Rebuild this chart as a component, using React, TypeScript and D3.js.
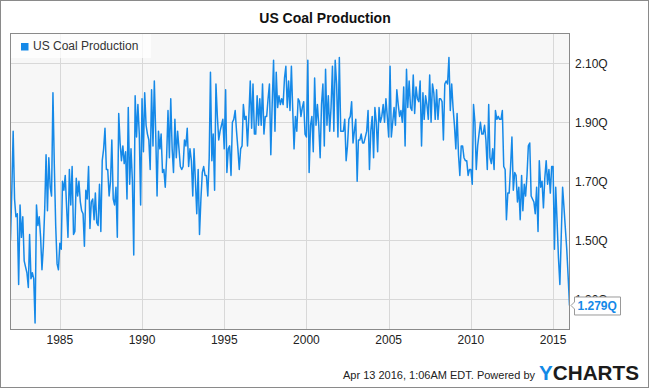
import React from "react";
import * as d3 from "d3";

// monthly values, quadrillion Btu, Jan 1982 onward
const seg1982 = [
  1.50, 1.68, 1.87, 1.64, 1.58, 1.59, 1.35, 1.62, 1.51, 1.58, 1.43,
  1.41, 1.39, 1.34, 1.52, 1.37, 1.39, 1.37, 1.22, 1.62, 1.55,
  1.58, 1.51, 1.40, 1.48, 1.61, 1.79, 1.60, 1.78, 1.68, 1.65,
  2.00, 1.75, 1.55, 1.42, 1.40, 1.49, 1.47, 1.70, 1.67, 1.72,
  1.61, 1.51, 1.74, 1.62, 1.75, 1.52, 1.53, 1.71, 1.65, 1.70,
  1.63, 1.60, 1.59, 1.48, 1.67, 1.64, 1.75, 1.54, 1.63, 1.64,
  1.57, 1.66, 1.56, 1.55, 1.69, 1.53, 1.77, 1.81,
];
const seg1987 = [
  1.88, 1.74, 1.74, 1.65, 1.70, 1.84, 1.64, 1.62, 1.68, 1.51,
  1.93, 1.83, 1.77, 1.82, 1.76, 1.80, 1.64, 1.95, 1.69, 1.81,
  1.70, 1.45, 1.99, 1.85, 1.96, 1.86, 1.62, 1.98, 1.80, 2.00,
  1.89, 1.86, 1.84, 1.74, 2.01, 1.82, 2.04, 1.86, 1.65, 1.87,
  1.81, 1.86, 1.73, 1.74, 1.68, 1.78, 1.94, 1.78, 1.98, 1.81,
  1.73, 1.91, 1.78, 1.87, 1.81, 1.75, 1.74, 1.75, 1.84, 1.82,
  1.88, 1.75, 1.81, 1.77, 1.65, 1.81, 1.70, 1.59,
];
const seg1993 = [
  1.74, 1.52, 1.64, 1.73, 1.75, 1.72, 1.72, 1.65, 1.78, 2.07,
  1.77, 1.86, 1.67, 2.03, 1.92, 1.84, 1.87, 1.89, 1.91, 1.81,
  2.01, 1.73, 1.81, 1.82, 1.72, 1.90, 1.91, 1.94, 1.87, 1.81,
  1.74, 1.81, 1.82, 1.96, 1.91, 1.92, 1.82, 1.92, 2.04, 1.88,
  2.03, 1.86, 1.86, 1.99, 1.89, 1.98, 1.89, 2.03, 1.86, 1.92,
  1.92, 1.98, 2.03, 1.79, 1.96, 2.11, 1.87, 2.07, 1.95, 1.99,
  1.96, 1.98, 1.96, 2.05, 2.09, 1.95, 2.04, 1.94,
];
const seg1999 = [
  2.09, 1.95, 1.81, 1.92, 1.87, 1.98, 1.97, 1.92, 1.95, 1.97,
  1.86, 1.85, 2.11, 1.73, 1.89, 1.92, 1.80, 2.05, 1.89, 1.96,
  1.89, 1.78, 1.96, 2.03, 1.82, 2.08, 1.89, 1.99, 1.87, 1.95,
  2.09, 1.87, 2.11, 2.03, 1.85, 2.12, 1.87, 1.87, 1.87, 1.91,
  1.77, 1.82, 1.91, 1.92, 1.97, 1.83, 1.87, 1.91, 1.70, 1.84,
  1.84, 1.86, 1.83, 1.83, 1.85, 1.87, 1.94, 1.74, 1.87, 1.92,
  1.78, 1.95, 1.90, 1.80, 1.95, 1.90, 1.92, 1.96,
];
const seg2004 = [
  1.90, 1.98, 1.92, 1.85, 2.09, 1.85, 1.90, 1.95, 1.89, 2.01,
  1.96, 1.92, 1.94, 1.90, 2.02, 1.82, 2.08, 1.95, 2.04, 1.95,
  1.94, 2.06, 1.93, 2.02, 1.98, 1.97, 2.04, 1.82, 2.00, 1.91,
  1.99, 1.96, 1.91, 2.06, 1.90, 2.03, 2.00, 1.91, 2.01, 1.91,
  1.98, 1.98, 1.97, 1.84, 2.03, 2.04, 2.03, 2.12, 1.94, 2.03,
  1.95, 1.89, 1.81, 1.93, 1.79, 1.72, 1.82, 1.82, 1.78, 1.77,
  1.77, 1.72, 1.74, 1.74, 1.69, 1.96, 1.90, 1.74,
];
const seg2010 = [
  1.82, 1.86, 1.90, 1.86, 1.86, 1.89, 1.84, 1.74, 1.96, 1.78,
  1.76, 1.81, 1.74, 1.94, 1.91, 1.92, 1.91, 1.91, 1.94, 1.75,
  1.74, 1.57, 1.66, 1.66, 1.75, 1.85, 1.67, 1.73, 1.72, 1.63,
  1.68, 1.57, 1.72, 1.60, 1.69, 1.65, 1.72, 1.82, 1.83, 1.65,
  1.64, 1.63, 1.59, 1.68, 1.53, 1.77, 1.68, 1.70, 1.61, 1.71,
  1.77, 1.69, 1.74, 1.66, 1.75, 1.75, 1.47, 1.68, 1.56, 1.44,
  1.35, 1.51, 1.68, 1.61, 1.54, 1.47, 1.38, 1.279,
];

const production = [...seg1982, ...seg1987, ...seg1993, ...seg1999, ...seg2004, ...seg2010];
const startMonth = new Date(1982, 0, 1);
const yTicks = [1.3, 1.5, 1.7, 1.9, 2.1];

const W = 650;
const H = 389;
const left = 10.5;
const right = 569.5;
const top = 33.5;
const bottom = 329.5;
const blue = "#1589e8";
const font = "'Liberation Sans', Arial, sans-serif";

export default function App() {
  const points = production.map((v, i) => ({ date: d3.timeMonth.offset(startMonth, i), value: v }));

  const x = d3.scaleTime()
    .domain([startMonth, new Date(2016, 0, 1)])
    .range([left, right]);
  const y = d3.scaleLinear().domain([1.3, 2.1]).range([299.3, 63.3]);

  const line = d3.line<{ date: Date; value: number }>()
    .x(d => x(d.date))
    .y(d => y(d.value));

  const xTicks = x.ticks(d3.timeYear.every(5)!);
  const last = points[points.length - 1];
  const ly = y(last.value);
  const lx = Math.min(x(last.date), right);

  return (
    <svg width={W} height={H} style={{ position: "absolute", left: 0, top: 0, fontFamily: font }}>
      <rect x={0.5} y={0.5} width={W - 2} height={H - 2} fill="#fff" stroke="#8a8a8a" />
      <text x={325} y={23} textAnchor="middle" fontSize={14} fontWeight="bold" fill="#111">
        US Coal Production
      </text>

      <defs>
        <clipPath id="plot">
          <rect x={left} y={top} width={right - left} height={bottom - top} />
        </clipPath>
      </defs>

      <rect x={left} y={top} width={right - left} height={bottom - top} fill="#f7f7f7" />

      {yTicks.map(t => (
        <line key={t} x1={left} x2={right} y1={Math.round(y(t)) + 0.5} y2={Math.round(y(t)) + 0.5}
          stroke="#d8d8d8" />
      ))}
      {xTicks.map(t => (
        <line key={+t} x1={Math.round(x(t)) + 0.5} x2={Math.round(x(t)) + 0.5} y1={top} y2={bottom}
          stroke="#d8d8d8" />
      ))}

      <path d={line(points) ?? ""} fill="none" stroke={blue} strokeWidth={1.5}
        strokeLinejoin="round" clipPath="url(#plot)" />

      {/* legend */}
      <rect x={left + 0.5} y={top + 0.5} width={140} height={24} fill="#fff" fillOpacity={0.75} />
      <rect x={21} y={43} width={7.5} height={7.5} fill={blue} />
      <text x={33} y={50} fontSize={12} fill="#333">US Coal Production</text>

      <rect x={left} y={top} width={right - left} height={bottom - top} fill="none" stroke="#8a8a8a" />

      {xTicks.map(t => (
        <text key={+t} x={x(t)} y={344} textAnchor="middle" fontSize={12} fill="#222">
          {d3.timeFormat("%Y")(t)}
        </text>
      ))}
      {yTicks.map(t => (
        <text key={t} x={575} y={y(t) + 4.5} fontSize={12} fill="#222">
          {d3.format(".2f")(t)}Q
        </text>
      ))}

      {/* last value callout */}
      <path
        d={`M${lx + 5},${ly - 8.5} H620.5 V${ly + 9.5} H${lx + 5} V${ly + 3.5} L${lx + 1.5},${ly} L${lx + 5},${ly - 3.5} Z`}
        fill="#fff" stroke="#9a9a9a" />
      <text x={577.5} y={ly + 4.5} fontSize={12} fontWeight="bold" fill={blue}>
        {d3.format(".3f")(last.value)}Q
      </text>

      {/* footer */}
      <text x={535} y={379} textAnchor="end" fontSize={11} fill="#222">
        Apr 13 2016, 1:06AM EDT.  Powered by
      </text>
      <text x={539} y={380} fontSize={20} fontWeight="900" textLength={100} lengthAdjust="spacingAndGlyphs"
        fill="#1b1b1b">
        <tspan fill="#1389e6">Y</tspan>CHARTS
      </text>
    </svg>
  );
}
